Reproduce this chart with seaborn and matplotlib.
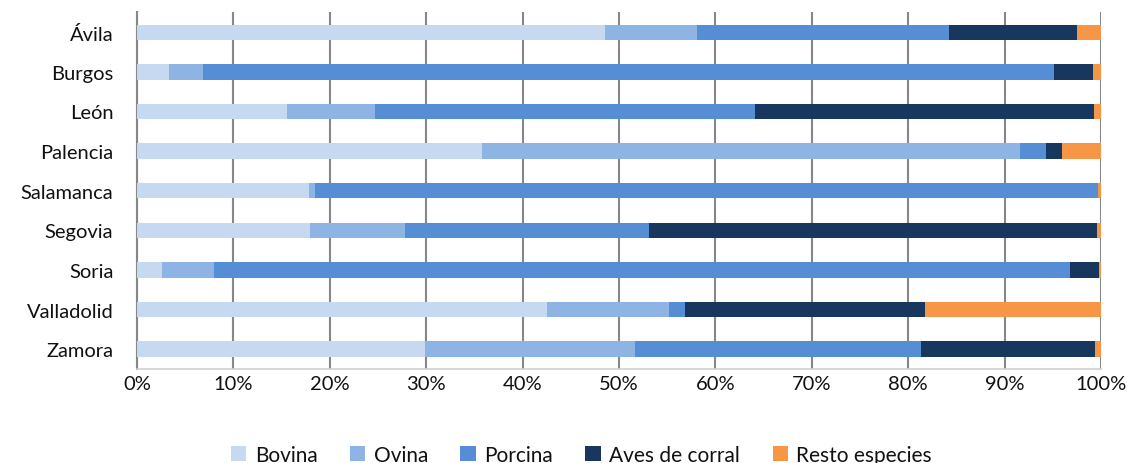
import numpy as np
import pandas as pd
import matplotlib
matplotlib.use('Agg')
import matplotlib.pyplot as plt
import seaborn as sns
from matplotlib.patches import Patch
from matplotlib.ticker import FixedLocator, PercentFormatter

# %% data (% of each province's livestock)
provincias = ['Ávila', 'Burgos', 'León', 'Palencia', 'Salamanca',
              'Segovia', 'Soria', 'Valladolid', 'Zamora']
especies = ['Bovina', 'Ovina', 'Porcina', 'Aves de corral', 'Resto especies']
bovina = [48.5, 3.3, 15.6, 35.8, 17.8, 17.9, 2.6, 42.5, 29.9]
ovina = [9.6, 3.5, 9.1, 55.8, 0.7, 9.9, 5.4, 12.7, 21.8]
porcina = [26.1, 88.3, 39.4, 2.7, 81.2, 25.3, 88.8, 1.6, 29.6]
aves = [13.3, 4.1, 35.2, 1.7, 0.0, 46.5, 3.0, 24.9, 18.1]
resto = [2.5, 0.8, 0.7, 4.0, 0.3, 0.4, 0.2, 18.3, 0.6]
colores = ['#C6D9F1', '#8EB4E3', '#558ED5', '#17375E', '#F79646']

df = pd.DataFrame({'Provincia': provincias, 'Bovina': bovina, 'Ovina': ovina,
                   'Porcina': porcina, 'Aves de corral': aves,
                   'Resto especies': resto}).set_index('Provincia')
# normalise to 100% and stack
df = df.div(df.sum(axis=1), axis=0) * 100
df_cum = df.cumsum(axis=1).reset_index()

# %%
sns.set_style('white')
plt.rcParams['font.family'] = ['Lato', 'DejaVu Sans']

fig = plt.figure(figsize=(11.29, 4.64), dpi=100)
ax = fig.add_axes([0.1213, 0.2026, 0.9752 - 0.1213, 0.971 - 0.2026])

# draw totals first, then overlay shorter cumulative bars
for esp, col in zip(especies[::-1], colores[::-1]):
    sns.barplot(data=df_cum, y='Provincia', x=esp, color=col, orient='h',
                width=0.39, saturation=1, ax=ax, zorder=3, edgecolor='none')

ax.set_xlim(0, 100)
ax.set_ylim(8.5, -0.5)
ax.xaxis.set_major_locator(FixedLocator(np.arange(0, 101, 10)))
ax.xaxis.set_major_formatter(PercentFormatter(decimals=0))
ax.grid(axis='x', color='#878787', linewidth=1.5, zorder=0)
ax.set_axisbelow(True)
ax.set_xlabel('')
ax.set_ylabel('')

for s in ['top', 'right']:
    ax.spines[s].set_visible(False)
ax.spines['left'].set_color('#878787')
ax.spines['left'].set_linewidth(1.5)
ax.spines['bottom'].set_color('#D0D0D0')
ax.spines['bottom'].set_linewidth(1.2)

ax.tick_params(axis='y', which='major', length=0, pad=17, labelsize=14.5,
               labelcolor='#111111')
ax.yaxis.set_minor_locator(FixedLocator(np.arange(-0.5, 9, 1)))
ax.tick_params(axis='y', which='minor', length=5, width=1.5, color='#878787')
ax.tick_params(axis='x', length=0, pad=4, labelsize=14.5, labelcolor='#111111')

handles = [Patch(facecolor=c, edgecolor='none', label=e)
           for e, c in zip(especies, colores)]
fig.legend(handles=handles, loc='lower center', ncol=5, frameon=False,
           bbox_to_anchor=(0.515, -0.045), fontsize=15, handlelength=0.75,
           handleheight=0.75, handletextpad=0.4, columnspacing=1.55,
           labelcolor='#111111')

fig.savefig('out.png', dpi=100)
